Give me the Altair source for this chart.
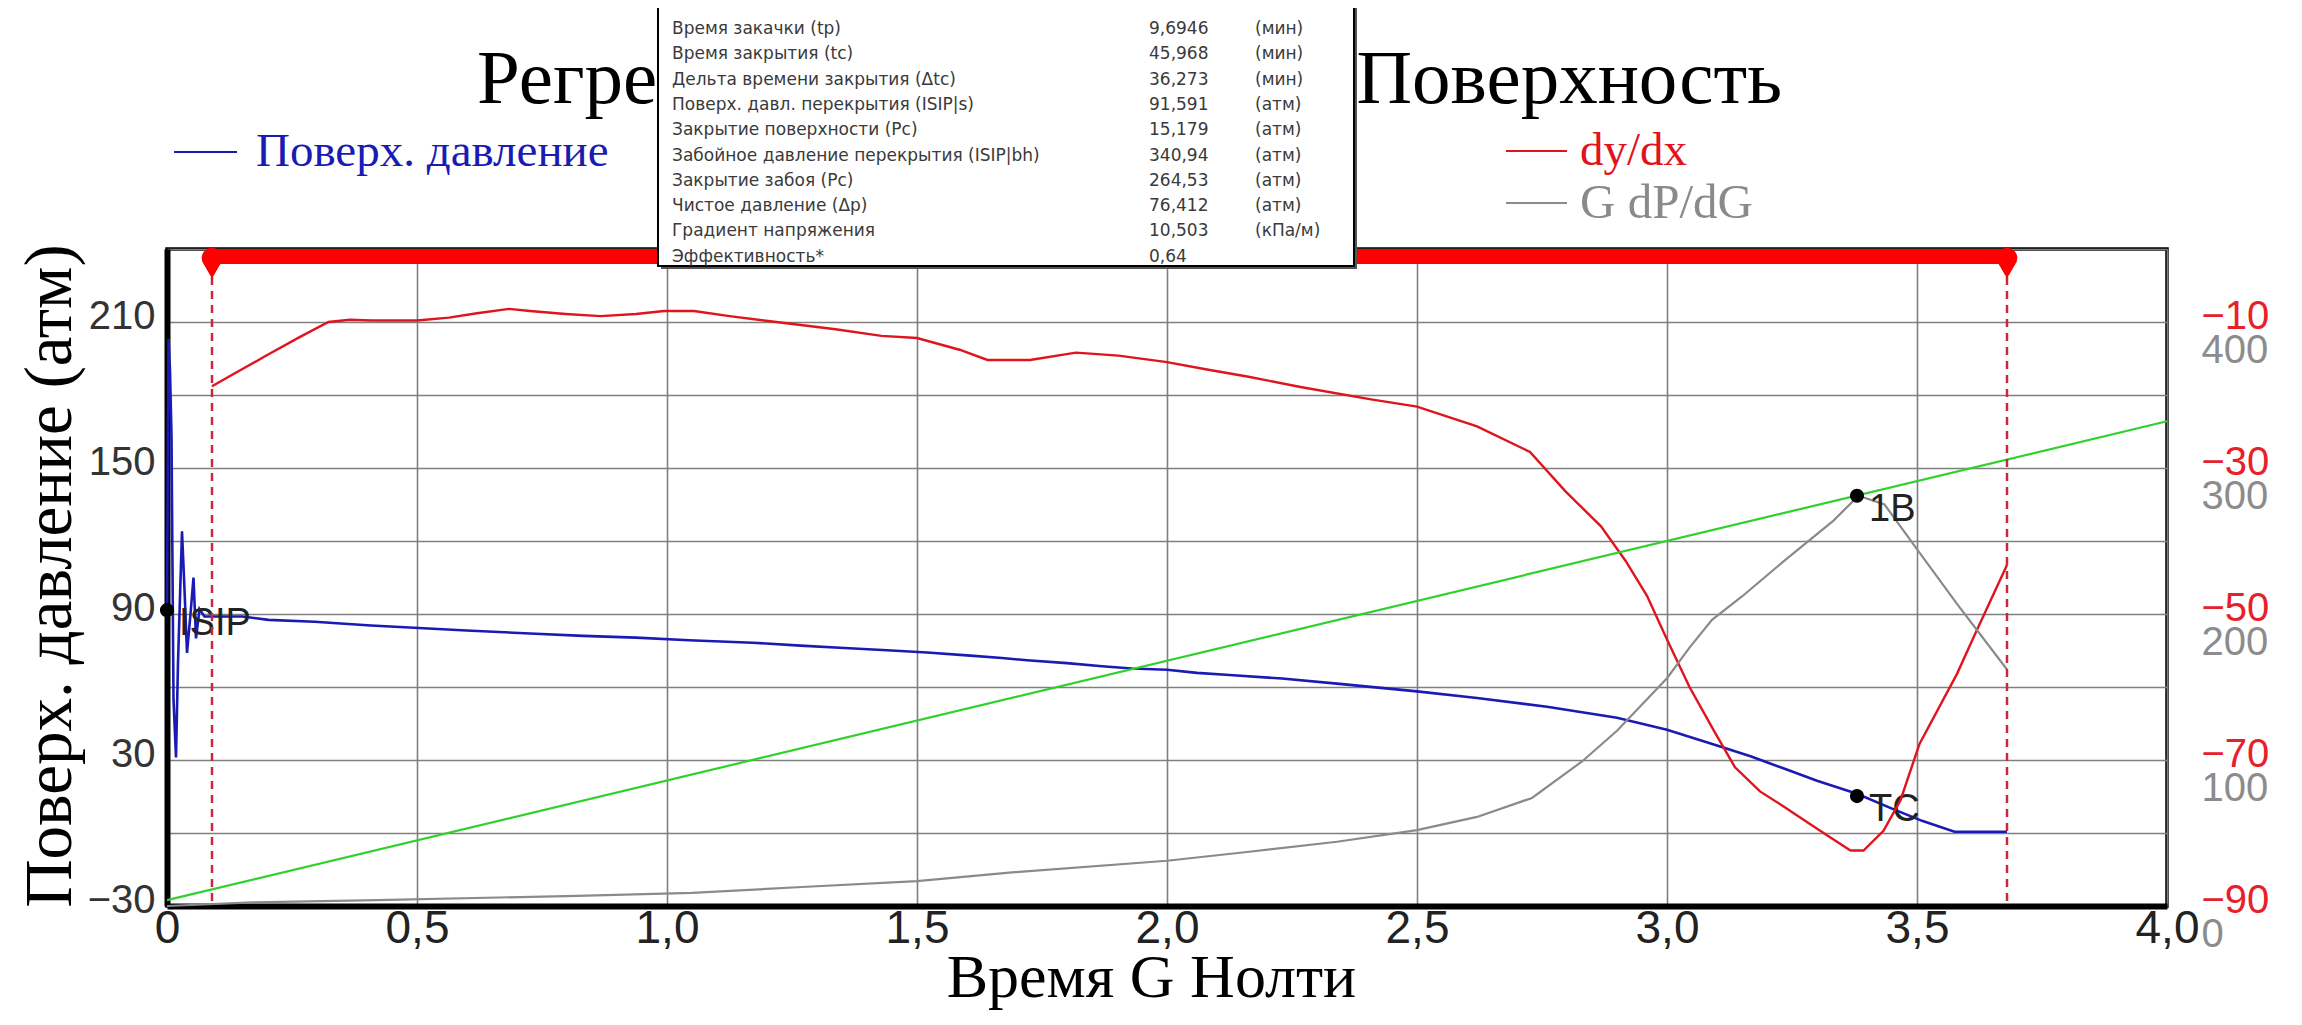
import altair as alt
import pandas as pd

# ---------------- data ----------------
blue_g = [0.000, 0.003, 0.006, 0.009, 0.013, 0.018, 0.022, 0.030, 0.035, 0.040, 0.047, 0.053, 0.058, 0.065,
          0.075, 0.150, 0.203, 0.295, 0.408, 0.599, 0.726, 0.832, 0.938, 1.044, 1.171, 1.267, 1.355, 1.440,
          1.520, 1.600, 1.670, 1.720, 1.800, 1.870, 1.930, 2.000, 2.060, 2.125, 2.230, 2.340, 2.500, 2.620,
          2.760, 2.900, 3.000, 3.100, 3.167, 3.234, 3.300, 3.380, 3.450, 3.510, 3.575, 3.680]
blue_p = [91.6, 203, 190, 163, 55, 31, 70, 124, 100, 74, 90, 105, 80, 92,
          89, 89, 87.6, 86.8, 85.3, 83.2, 82.0, 81.0, 80.3, 79.2, 78.2, 77.0, 76.0, 75.1,
          74.2, 73.0, 71.9, 71.0, 69.8, 68.5, 67.6, 67.1, 65.8, 64.9, 63.5, 61.4, 58.2, 55.5,
          51.9, 47.4, 42.4, 36.0, 31.5, 26.5, 21.5, 16.1, 10.0, 5.0, 0.5, 0.5]

red_g = [0.090, 0.126, 0.196, 0.267, 0.323, 0.366, 0.408, 0.500, 0.564, 0.620, 0.684, 0.726, 0.797, 0.867,
         0.938, 0.994, 1.054, 1.125, 1.231, 1.337, 1.429, 1.500, 1.585, 1.641, 1.726, 1.818, 1.903, 2.000,
         2.080, 2.163, 2.267, 2.408, 2.500, 2.620, 2.726, 2.797, 2.868, 2.917, 2.960, 3.000, 3.045, 3.094,
         3.136, 3.186, 3.234, 3.267, 3.320, 3.367, 3.393, 3.433, 3.467, 3.505, 3.580, 3.615, 3.680]
red_v = [-18.8, -17.4, -14.7, -12.0, -10.0, -9.7, -9.8, -9.8, -9.4, -8.8, -8.2, -8.5, -8.9, -9.2,
         -8.9, -8.5, -8.5, -9.2, -10.1, -11.0, -11.9, -12.2, -13.8, -15.2, -15.2, -14.2, -14.6, -15.5,
         -16.5, -17.5, -18.9, -20.6, -21.6, -24.3, -27.8, -33.2, -38.0, -42.7, -47.5, -53.5, -60.0, -66.0,
         -71.0, -74.3, -76.4, -77.9, -80.3, -82.4, -82.4, -79.7, -75.5, -67.8, -58.2, -52.9, -43.3]

gray_g = [0.0, 0.17, 0.42, 0.82, 1.05, 1.27, 1.50, 1.69, 2.00, 2.16, 2.34, 2.50, 2.62, 2.73, 2.83,
          2.90, 3.00, 3.045, 3.09, 3.15, 3.233, 3.333, 3.383, 3.435, 3.505, 3.580, 3.680]
gray_v = [0, 2.5, 4, 7, 9, 13, 17, 23, 31, 37, 44, 52, 61, 74, 99,
          120, 156, 177, 196, 212, 236, 264, 281, 275, 242, 207, 162]

green_g = [0.0, 4.0]
green_v = [4.0, 332.0]

pt_names = ["ISIP", "TC"]
pt_g = [0.0, 3.38]
pt_p = [91.591, 15.179]
b1_name = ["1B"]
b1_g = [3.38]
b1_v = [281.0]

window_g = [0.090, 3.680]

x_ticks = [0, 0.5, 1.0, 1.5, 2.0, 2.5, 3.0, 3.5, 4.0]
left_ticks = [-30, 0, 30, 60, 90, 120, 150, 180, 210, 240]
red_ticks = [-90, -70, -50, -30, -10]
gray_ticks = [0, 100, 200, 300, 400]

title_text = "Регрессия по G-функции - Поверхность"
x_title = "Время G Нолти"
y_title = "Поверх. давление (атм)"
legend_names = ["Поверх. давление", "dy/dx", "G dP/dG"]

info_labels = ["Время закачки (tp)", "Время закрытия (tc)", "Дельта времени закрытия (Δtc)",
               "Поверх. давл. перекрытия (ISIP|s)", "Закрытие поверхности (Pc)",
               "Забойное давление перекрытия (ISIP|bh)", "Закрытие забоя (Pc)",
               "Чистое давление (Δp)", "Градиент напряжения", "Эффективность*"]
info_values = ["9,6946", "45,968", "36,273", "91,591", "15,179", "340,94", "264,53", "76,412", "10,503", "0,64"]
info_units = ["(мин)", "(мин)", "(мин)", "(атм)", "(атм)", "(атм)", "(атм)", "(атм)", "(кПа/м)", ""]

# ---------------- styling ----------------
W, H = 2000, 657
SERIF = "Liberation Serif"
SANS = "Liberation Sans"
BLUE = "#1a1ab4"
RED = "#e0141e"
GRAY = "#8a8a8a"
GREEN = "#2ed12e"
GRID = "#7f7f7f"

x_enc = alt.X(
    "G:Q",
    scale=alt.Scale(domain=[0, 4], nice=False, zero=False),
    axis=alt.Axis(
        values=x_ticks,
        labelExpr="datum.value == 0 ? '0' : replace(format(datum.value, '.1f'), '.', ',')",
        title=x_title, titleFont=SERIF, titleFontSize=62, titleFontWeight="normal", titleColor="black",
        titleX=984, titleY=90, titleAlign="center", titleBaseline="alphabetic",
        labelFont=SANS, labelFontSize=46, labelColor="#222", labelPadding=0, labelBaseline="top",
        labelFlush=False, labelOverlap=False,
        ticks=False, domainColor="black", domainWidth=6,
        grid=True, gridColor=GRID, gridWidth=1.6,
    ),
)

left_scale = alt.Scale(domain=[-30, 240], nice=False, zero=False)
left_axis = alt.Axis(
    orient="left", values=left_ticks,
    labelExpr="(datum.value + 30) % 60 == 0 ? datum.label : ''",
    title=y_title, titleFont=SERIF, titleFontSize=67, titleFontWeight="normal", titleColor="black",
    titleX=-97, titleY=H / 2 - 2, titleAngle=270, titleAlign="center", titleBaseline="alphabetic",
    labelFont=SANS, labelFontSize=40, labelColor="#333", labelPadding=12, labelOffset=-6, labelFlush=False,
    ticks=False, domainColor="black", domainWidth=6,
    grid=True, gridColor=GRID, gridWidth=1.6,
)
red_axis = alt.Axis(
    orient="right", values=red_ticks, title=None, grid=False, ticks=False, domain=False,
    labelFont=SANS, labelFontSize=40, labelColor="#e8202a", labelPadding=34, labelOffset=-6, labelFlush=False,
)
gray_axis = alt.Axis(
    orient="right", values=gray_ticks, title=None, grid=False, ticks=False, domain=False,
    labelFont=SANS, labelFontSize=40, labelColor="#8c8c8c", labelPadding=34, labelOffset=28, labelFlush=False,
)

blue_y = alt.Y("P:Q", scale=left_scale, axis=left_axis)
red_y = alt.Y("V:Q", scale=alt.Scale(domain=[-90, 0], nice=False, zero=False), axis=red_axis)
gray_y = alt.Y("V:Q", scale=alt.Scale(domain=[0, 450], nice=False, zero=False), axis=gray_axis)

one = pd.DataFrame({"k": [0]})

# ---------------- layers ----------------
title_mark = alt.Chart(pd.DataFrame({"t": [title_text]})).mark_text(
    font=SERIF, fontSize=77, align="left", baseline="alphabetic", color="black"
).encode(x=alt.value(310), y=alt.value(-146), text="t:N")

blue_df = pd.DataFrame({"G": blue_g, "P": blue_p})
pts_df = pd.DataFrame({"G": pt_g, "P": pt_p, "name": pt_names})
blue_line = alt.Chart(blue_df).mark_line(color=BLUE, strokeWidth=2.6).encode(x=x_enc, y=blue_y)
blue_pts = alt.Chart(pts_df).mark_point(filled=True, color="black", size=200, opacity=1).encode(x=x_enc, y=blue_y)
blue_txt = alt.Chart(pts_df).mark_text(
    align="left", baseline="middle", dx=12, dy=14, font=SANS, fontSize=38, color="#222"
).encode(x=x_enc, y=blue_y, text="name:N")
blue_group = alt.layer(blue_line, blue_pts, blue_txt)

red_df = pd.DataFrame({"G": red_g, "V": red_v})
red_group = alt.Chart(red_df).mark_line(color=RED, strokeWidth=2.4).encode(x=x_enc, y=red_y)

gray_df = pd.DataFrame({"G": gray_g, "V": gray_v})
green_df = pd.DataFrame({"G": green_g, "V": green_v})
b1_df = pd.DataFrame({"G": b1_g, "V": b1_v, "name": b1_name})
gray_line = alt.Chart(gray_df).mark_line(color=GRAY, strokeWidth=2.2).encode(x=x_enc, y=gray_y)
green_line = alt.Chart(green_df).mark_line(color=GREEN, strokeWidth=2.2).encode(x=x_enc, y=gray_y)
b1_pt = alt.Chart(b1_df).mark_point(filled=True, color="black", size=200, opacity=1).encode(x=x_enc, y=gray_y)
b1_txt = alt.Chart(b1_df).mark_text(
    align="left", baseline="middle", dx=12, dy=14, font=SANS, fontSize=38, color="#222"
).encode(x=x_enc, y=gray_y, text="name:N")
gray_group = alt.layer(gray_line, green_line, b1_pt, b1_txt)

win_df = pd.DataFrame({"G": window_g})
dashed = alt.Chart(win_df).mark_rule(color="#c8283c", strokeWidth=2.5, strokeDash=[8, 6]).encode(
    x=x_enc, y=alt.value(0), y2=alt.value(H)
)
bar_df = pd.DataFrame({"G": [window_g[0]], "G2": [window_g[1]]})
top_bar = alt.Chart(bar_df).mark_rule(color="#ff0000", strokeWidth=15, strokeCap="butt").encode(
    x=x_enc, x2="G2:Q", y=alt.value(7.5)
)
end_circ = alt.Chart(win_df).mark_point(filled=True, color="#ff0000", shape="circle", size=430, opacity=1).encode(
    x=x_enc, y=alt.value(9)
)
end_tri = alt.Chart(win_df).mark_point(filled=True, color="#ff0000", shape="triangle-down", size=300, opacity=1).encode(
    x=x_enc, y=alt.value(22)
)

box_shadow = alt.Chart(one).mark_rect(fill="#555555").encode(
    x=alt.value(494), x2=alt.value(1190), y=alt.value(-242), y2=alt.value(20)
)
box = alt.Chart(one).mark_rect(fill="white", stroke="black", strokeWidth=2).encode(
    x=alt.value(491), x2=alt.value(1187), y=alt.value(-245), y2=alt.value(17)
)
info_df = pd.DataFrame({"label": info_labels, "value": info_values, "unit": info_units,
                        "row": list(range(len(info_labels)))})
info_base = alt.Chart(info_df).transform_calculate(py="-220 + datum.row * 25.3")
info_style = dict(align="left", baseline="middle", font="DejaVu Sans", fontSize=17, color="#3a3a3a")
info_t1 = info_base.mark_text(**info_style).encode(
    x=alt.value(505), y=alt.Y("py:Q", scale=None, axis=None), text="label:N")
info_t2 = info_base.mark_text(**info_style).encode(
    x=alt.value(982), y=alt.Y("py:Q", scale=None, axis=None), text="value:N")
info_t3 = info_base.mark_text(**info_style).encode(
    x=alt.value(1088), y=alt.Y("py:Q", scale=None, axis=None), text="unit:N")

leg_blue_line = alt.Chart(one).mark_rule(color=BLUE, strokeWidth=2).encode(
    x=alt.value(7), x2=alt.value(70), y=alt.value(-97))
leg_blue_txt = alt.Chart(pd.DataFrame({"t": [legend_names[0]]})).mark_text(
    align="left", baseline="middle", font=SERIF, fontSize=47, color=BLUE
).encode(x=alt.value(89), y=alt.value(-97), text="t:N")
leg_red_line = alt.Chart(one).mark_rule(color=RED, strokeWidth=2).encode(
    x=alt.value(1339), x2=alt.value(1400), y=alt.value(-98))
leg_red_txt = alt.Chart(pd.DataFrame({"t": [legend_names[1]]})).mark_text(
    align="left", baseline="middle", font=SERIF, fontSize=47, color=RED
).encode(x=alt.value(1413), y=alt.value(-98), text="t:N")
leg_gray_line = alt.Chart(one).mark_rule(color=GRAY, strokeWidth=2).encode(
    x=alt.value(1339), x2=alt.value(1400), y=alt.value(-46))
leg_gray_txt = alt.Chart(pd.DataFrame({"t": [legend_names[2]]})).mark_text(
    align="left", baseline="middle", font=SERIF, fontSize=49, color=GRAY
).encode(x=alt.value(1413), y=alt.value(-46), text="t:N")

chart = alt.layer(
    title_mark, blue_group, red_group, gray_group, dashed, top_bar, end_circ, end_tri,
    box_shadow, box, info_t1, info_t2, info_t3,
    leg_blue_line, leg_blue_txt, leg_red_line, leg_red_txt, leg_gray_line, leg_gray_txt,
).resolve_scale(y="independent").properties(
    width=W, height=H,
    autosize=alt.AutoSizeParams(type="none"),
    padding={"left": 159, "top": 241, "right": 120, "bottom": 106},
    background="white",
).configure_view(stroke="black", strokeWidth=3.5)

chart.save("out.html", embed_options={"renderer": "svg", "actions": False})
